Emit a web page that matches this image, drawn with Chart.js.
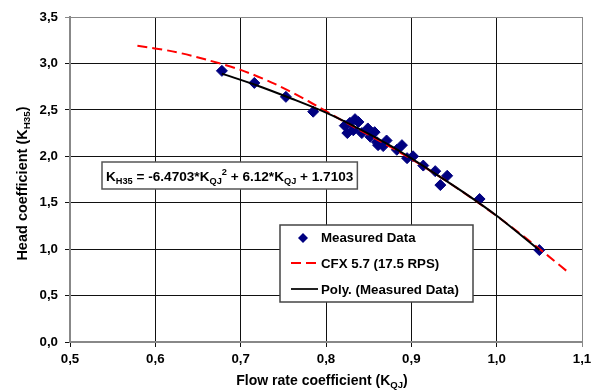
<!DOCTYPE html>
<html>
<head>
<meta charset="utf-8">
<script src="https://cdn.jsdelivr.net/npm/chart.js@4/dist/chart.umd.min.js"></script>
<style>
  body { margin: 0; background: #fff; }
  #myChart { display: block; }
</style>
</head>
<body>
<canvas id="myChart" width="597" height="392"></canvas>
<script>
/* measured data */
var measX = [0.678, 0.716, 0.753, 0.785, 0.822, 0.828, 0.834, 0.838, 0.825, 0.832, 0.842, 0.849, 0.857, 0.852,
             0.860, 0.861, 0.871, 0.867, 0.883, 0.889, 0.895, 0.902, 0.914, 0.928, 0.942, 0.934, 0.980, 1.050];
var measY = [2.92, 2.79, 2.64, 2.48, 2.33, 2.36, 2.40, 2.37, 2.25, 2.28, 2.25, 2.30, 2.26, 2.21,
             2.15, 2.12, 2.17, 2.11, 2.07, 2.12, 1.98, 2.00, 1.90, 1.84, 1.79, 1.69, 1.54, 0.99];

/* CFX 5.7 curve (17.5 RPS) */
var cfxX = [0.579, 0.62, 0.66, 0.70, 0.74, 0.78, 0.82, 0.86, 0.90, 0.94, 0.98, 1.02, 1.06, 1.082];
var cfxY = [3.19, 3.13, 3.04, 2.93, 2.78, 2.59, 2.38, 2.18, 1.97, 1.74, 1.49, 1.22, 0.93, 0.765];

/* poly trendline */
var polyX = [0.678, 0.72, 0.76, 0.80, 0.84, 0.88, 0.92, 0.96, 1.00, 1.050];
var polyY = [2.89, 2.76, 2.62, 2.47, 2.29, 2.09, 1.86, 1.62, 1.36, 0.99];

var legendLabels = ["Measured Data", "CFX 5.7 (17.5 RPS)", "Poly. (Measured Data)"];

function toPoints(xs, ys) {
  var pts = [];
  for (var i = 0; i < xs.length; i++) pts.push({x: xs[i], y: ys[i]});
  return pts;
}

function fontOf(size) {
  return 'bold ' + size + 'px "Liberation Sans", Arial, sans-serif';
}

// text with sub / superscripts: parts = [[text, mode], ...]
function richWidth(ctx, parts, size) {
  var w = 0;
  parts.forEach(function(p) {
    ctx.font = fontOf(p[1] ? size * 0.68 : size);
    w += ctx.measureText(p[0]).width;
  });
  return w;
}
function drawRich(ctx, parts, x, y, size) {
  ctx.textBaseline = 'alphabetic';
  ctx.textAlign = 'left';
  parts.forEach(function(p) {
    var dy = 0;
    if (p[1] == 'sub') dy = size * 0.22;
    if (p[1] == 'sup') dy = -size * 0.42;
    ctx.font = fontOf(p[1] ? size * 0.68 : size);
    ctx.fillText(p[0], x, y + dy);
    x += ctx.measureText(p[0]).width;
  });
}

var extras = {
  id: 'extras',
  afterDraw: function(chart) {
    var ctx = chart.ctx;
    var a = chart.chartArea;
    ctx.save();
    ctx.fillStyle = '#000';

    // axis titles
    var xt = [["Flow rate coefficient (K", ""], ["QJ", "sub"], [")", ""]];
    var w = richWidth(ctx, xt, 14);
    drawRich(ctx, xt, (a.left + a.right) / 2 - 4 - w / 2, 385, 14);

    var yt = [["Head coefficient (K", ""], ["H35", "sub"], [")", ""]];
    w = richWidth(ctx, yt, 14.5);
    ctx.save();
    ctx.translate(27, (a.top + a.bottom) / 2 + 4);
    ctx.rotate(-Math.PI / 2);
    drawRich(ctx, yt, -w / 2, 0, 14.5);
    ctx.restore();

    // equation box
    var eq = [["K", ""], ["H35", "sub"], [" = -6.4703*K", ""], ["QJ", "sub"], ["2", "sup"],
              [" + 6.12*K", ""], ["QJ", "sub"], [" + 1.7103", ""]];
    w = richWidth(ctx, eq, 13.6);
    ctx.fillStyle = '#fff';
    ctx.fillRect(102, 162, w + 8, 27);
    ctx.strokeStyle = '#555';
    ctx.lineWidth = 1.5;
    ctx.strokeRect(102, 162, w + 8, 27);
    ctx.fillStyle = '#000';
    drawRich(ctx, eq, 106, 181, 13.6);

    // legend
    ctx.fillStyle = '#fff';
    ctx.fillRect(280, 225, 193, 77);
    ctx.strokeStyle = '#444';
    ctx.lineWidth = 1.5;
    ctx.strokeRect(280, 225, 193, 77);

    ctx.fillStyle = '#000080';
    ctx.beginPath();
    ctx.moveTo(303, 233); ctx.lineTo(308, 238); ctx.lineTo(303, 243); ctx.lineTo(298, 238);
    ctx.closePath();
    ctx.fill();

    ctx.strokeStyle = '#ff0000';
    ctx.lineWidth = 2;
    ctx.setLineDash([10, 5]);
    ctx.beginPath(); ctx.moveTo(291, 263); ctx.lineTo(318, 263); ctx.stroke();
    ctx.setLineDash([]);
    ctx.strokeStyle = '#222';
    ctx.beginPath(); ctx.moveTo(291, 289); ctx.lineTo(318, 289); ctx.stroke();

    ctx.fillStyle = '#000';
    ctx.font = fontOf(13.3);
    ctx.textBaseline = 'middle';
    ctx.fillText(legendLabels[0], 321, 238);
    ctx.fillText(legendLabels[1], 321, 264);
    ctx.fillText(legendLabels[2], 321, 290);
    ctx.restore();
  }
};

function gridColor(edge) {
  return function(c) {
    if (c.tick && c.tick.value >= edge - 1e-6) return '#888';
    return '#111';
  };
}
function comma(v) {
  return v.toFixed(1).replace('.', ',');
}

new Chart("myChart", {
  type: "scatter",
  data: {
    datasets: [{
      label: legendLabels[2],
      data: toPoints(polyX, polyY),
      showLine: true,
      borderColor: "#000",
      borderWidth: 2,
      pointRadius: 0,
      tension: 0.3,
      order: 0
    }, {
      label: legendLabels[1],
      data: toPoints(cfxX, cfxY),
      showLine: true,
      borderColor: "#ff0000",
      borderWidth: 2,
      borderDash: [10, 5],
      pointRadius: 0,
      tension: 0.3,
      order: 1
    }, {
      label: legendLabels[0],
      data: toPoints(measX, measY),
      pointStyle: "rectRot",
      pointRadius: 5.5,
      backgroundColor: "#000080",
      borderColor: "#000080",
      borderWidth: 1,
      order: 2
    }]
  },
  options: {
    responsive: false,
    animation: false,
    layout: {padding: {top: 17, right: 15, left: 0, bottom: 0}},
    plugins: {legend: {display: false}, tooltip: {enabled: false}},
    scales: {
      x: {
        type: "linear",
        min: 0.5, max: 1.1,
        afterFit: function(s) { s.height = 50; },
        border: {color: "#888", width: 2},
        grid: {color: gridColor(1.1), tickLength: 5, lineWidth: 1},
        ticks: {
          stepSize: 0.1, padding: 4, color: "#000",
          font: {family: '"Liberation Sans", Arial, sans-serif', size: 13.3, weight: "bold"},
          callback: function(v) { return comma(v); }
        }
      },
      y: {
        min: 0, max: 3.5,
        afterFit: function(s) { s.width = 70; },
        border: {color: "#888", width: 2},
        grid: {color: gridColor(3.5), tickLength: 5, lineWidth: 1},
        ticks: {
          stepSize: 0.5, padding: 7, color: "#000",
          font: {family: '"Liberation Sans", Arial, sans-serif', size: 13.3, weight: "bold"},
          callback: function(v) { return comma(v); }
        }
      }
    }
  },
  plugins: [extras]
});
</script>
</body>
</html>
